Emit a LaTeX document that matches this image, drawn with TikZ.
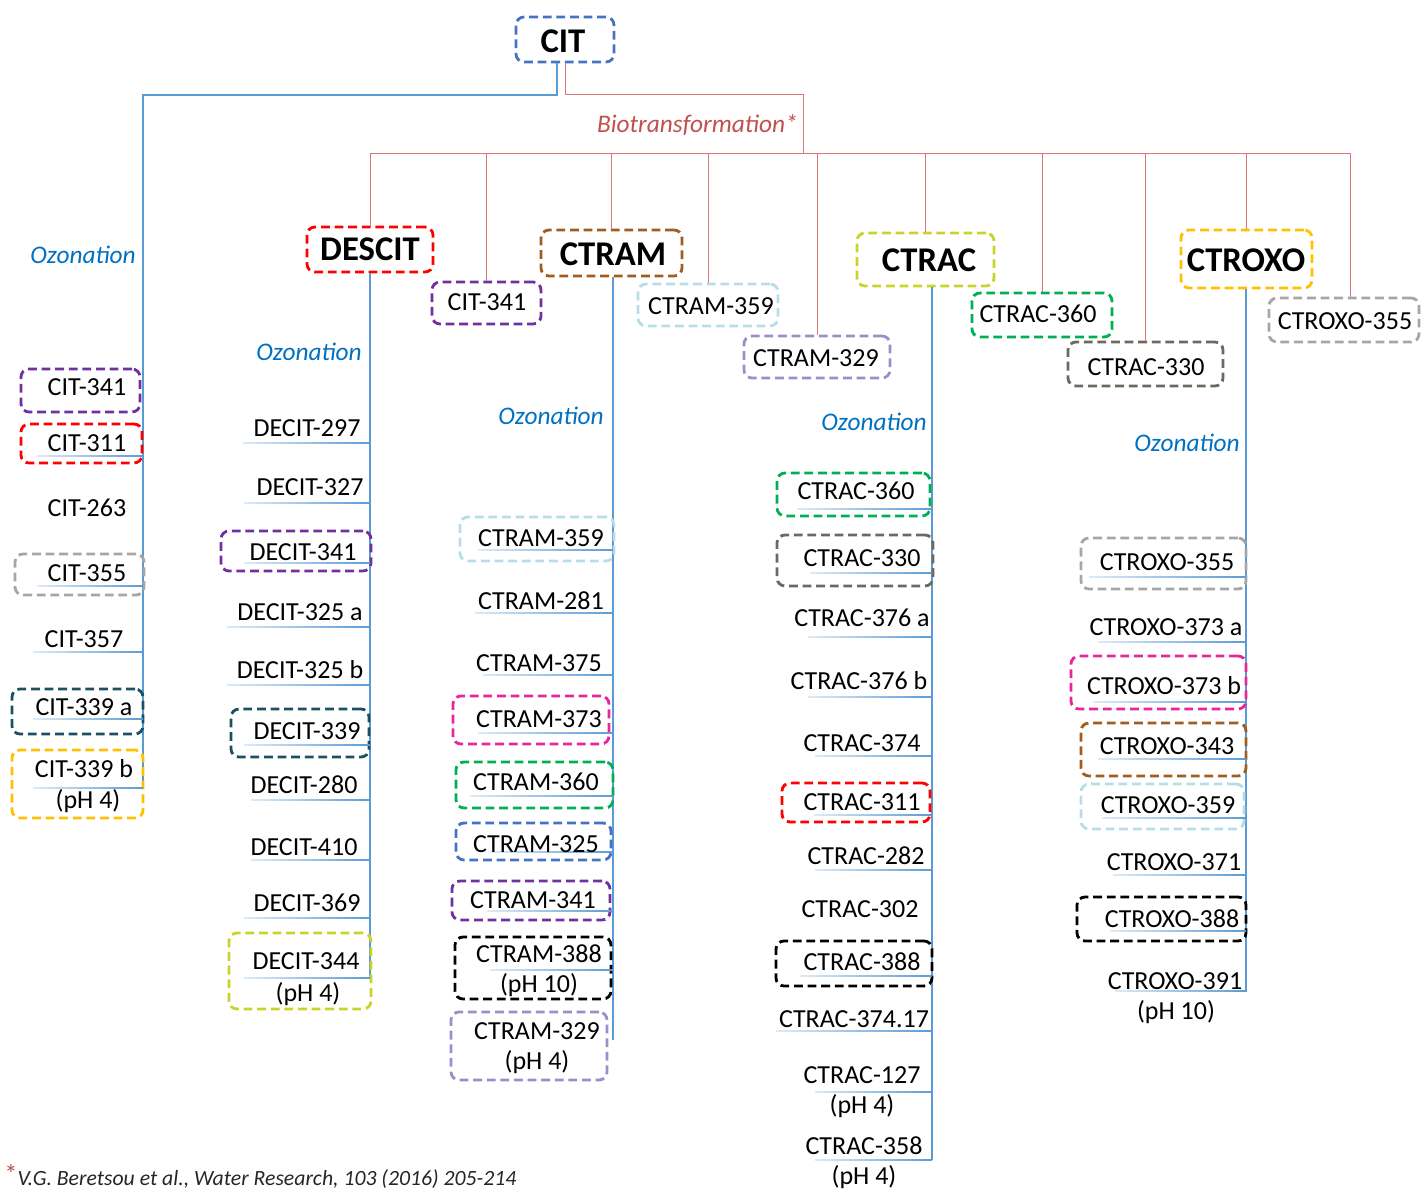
\documentclass[tikz,border=0pt]{standalone}
\usepackage{fontspec}
\setmainfont{Carlito}
\usetikzlibrary{calc}

\definecolor{cblue}{HTML}{4472C4}
\definecolor{cred}{HTML}{FF0000}
\definecolor{cbrown}{HTML}{A15C1E}
\definecolor{clime}{HTML}{C8D42A}
\definecolor{cgold}{HTML}{FFC000}
\definecolor{cpurple}{HTML}{7030A0}
\definecolor{cgray}{HTML}{A6A6A6}
\definecolor{cteal}{HTML}{1D4F62}
\definecolor{cltblue}{HTML}{B7DEE8}
\definecolor{clav}{HTML}{9A8FC8}
\definecolor{cpink}{HTML}{E8259B}
\definecolor{cgreen}{HTML}{00B050}
\definecolor{cdkgray}{HTML}{6B6A5E}
\definecolor{lineblue}{HTML}{5B9BD5}
\definecolor{ozblue}{HTML}{0070C0}
\definecolor{linered}{HTML}{D9787A}
\definecolor{biored}{HTML}{C0504D}
\definecolor{refgray}{HTML}{262626}

\tikzset{
  dbox/.style={draw=#1, dash pattern=on 6.6pt off 3.6pt, line width=2.1pt,
    rounded corners=6pt, inner sep=0pt},
  head/.style={font=\fontsize{26}{30}\selectfont\bfseries, text height=16.7pt,
    text depth=0pt, inner sep=0pt},
  lbl/.style={font=\fontsize{19.5}{23}\selectfont, text height=12.5pt,
    text depth=0pt, inner sep=0pt},
  ozo/.style={font=\fontsize{19}{23}\selectfont\itshape, text=ozblue,
    text height=12.3pt, text depth=0pt, inner sep=0pt, anchor=east},
  bio/.style={font=\fontsize{19}{23}\selectfont\itshape, text=biored,
    text height=12.3pt, text depth=0pt, inner sep=0pt, anchor=east},
  bline/.style={draw=lineblue, line width=0.9pt},
  rline/.style={draw=linered, line width=0.75pt},
}

% dashed rounded frame: name, x1, y1, x2, y2, colour
\newcommand\bx[6]{%
  \node[dbox=#6, minimum width={(#4-#2)*0.75pt}, minimum height={(#5-#3)*0.75pt}]
    (#1) at ({(#2+#4)/2},{(#3+#5)/2}) {};}
% tie line from an entry to its column line: x1, y, x2
\newcommand\tie[3]{%
  \fill[left color=lineblue!20, right color=lineblue] (#1,#2-0.7) rectangle (#3,#2+0.7);}

\begin{document}
\begin{tikzpicture}[x=0.75pt,y=-0.75pt]
\useasboundingbox (0,0) rectangle (1421,1191);

% ---------------- parent compound ----------------
\bx{cit}{516}{17}{614}{62}{cblue}
\node[head] (citT) at (563,41) {CIT};

% ---------------- biotransformation products (top row) ----------------
\bx{descit}{307}{227}{433}{272}{cred}
\node[head] (descitT) at (370,249) {DESCIT};
\bx{bcit341}{432}{282}{541}{324}{cpurple}
\node[lbl] (bcit341T) at (487,302) {CIT-341};
\bx{ctram}{541}{230}{682}{276}{cbrown}
\node[head] (ctramT) at (613,254) {CTRAM};
\bx{bctram359}{638}{284}{778}{326}{cltblue}
\node[lbl] (bctram359T) at (711,306) {CTRAM-359};
\bx{bctram329}{744}{336}{890}{378}{clav}
\node[lbl] (bctram329T) at (816,358) {CTRAM-329};
\bx{ctrac}{857}{233}{994}{286}{clime}
\node[head] (ctracT) at (929,260) {CTRAC};
\bx{bctrac360}{972}{293}{1112}{337}{cgreen}
\node[lbl] (bctrac360T) at (1038,314) {CTRAC-360};
\bx{bctrac330}{1068}{342}{1223}{386}{cdkgray}
\node[lbl] (bctrac330T) at (1146,367) {CTRAC-330};
\bx{ctroxo}{1181}{230}{1312}{288}{cgold}
\node[head] (ctroxoT) at (1246,260) {CTROXO};
\bx{bctroxo355}{1269}{298}{1419}{342}{cgray}
\node[lbl] (bctroxo355T) at (1345,321) {CTROXO-355};

% ---------------- branching lines ----------------
\coordinate (ozj) at (143,95);
\coordinate (citEnd) at (143,788);
\coordinate (bioTop) at (803,95);
\coordinate (barL) at (370,154);
\coordinate (barR) at (1351,154);
\coordinate (bioJ) at (803,154);

\draw[bline] ([xshift=-6pt]cit.south) |- (ozj) -- (citEnd);
\draw[rline] (cit.south) |- (bioTop) -- (bioJ);
\draw[rline] (barL) -- (barR);
\node[bio] (bioT) at (798,124) {Biotransformation*};

\foreach \n in {descit,bcit341,ctram,bctram359,bctram329,ctrac,bctrac360,bctrac330,ctroxo}
  \draw[rline] (\n.north) -- (\n.north |- barL);
\draw[rline] ([xshift=5pt]bctroxo355.north) -- ([xshift=5pt]bctroxo355.north |- barL);

% ---------------- ozonation columns ----------------
\coordinate (descitEnd) at (370,978);
\coordinate (ctramEnd) at (613,1040);
\coordinate (ctracEnd) at (932,1160);
\coordinate (ctroxoEnd) at (1246,992);
\draw[bline] (descit.south) -- (descitEnd);
\draw[bline] (ctram.south -| ctramEnd) -- (ctramEnd);
\draw[bline] (ctrac.south -| ctracEnd) -- (ctracEnd);
\draw[bline] (ctroxo.south -| ctroxoEnd) -- (ctroxoEnd);

\node[ozo] (oz1) at (136,255) {Ozonation};
\node[ozo] (oz2) at (362,352) {Ozonation};
\node[ozo] (oz3) at (604,416) {Ozonation};
\node[ozo] (oz4) at (927,422) {Ozonation};
\node[ozo] (oz5) at (1240,443) {Ozonation};

% CIT ozonation products
\bx{c1b}{21}{369}{140}{412}{cpurple}
\node[lbl] (c1) at (87,387) {CIT-341};
\bx{c2b}{21}{424}{142}{463}{cred}
\tie{37}{456}{143}
\node[lbl] (c2) at (87,443) {CIT-311};
\node[lbl] (c3) at (87,508) {CIT-263};
\bx{c4b}{15}{554}{144}{595}{cgray}
\tie{37}{586}{143}
\node[lbl] (c4) at (87,573) {CIT-355};
\tie{33}{652}{143}
\node[lbl] (c5) at (84,639) {CIT-357};
\bx{c6b}{12}{689}{143}{734}{cteal}
\tie{33}{719}{143}
\node[lbl] (c6) at (84,707) {CIT-339 a};
\bx{c7b}{12}{750}{143}{818}{cgold}
\tie{33}{788}{143}
\node[lbl] (c7) at (84,769) {CIT-339 b};
\node[lbl] (c7p) at (88,800) {(pH 4)};

% DESCIT ozonation products
\tie{243}{443}{370}
\node[lbl] (d1) at (307,428) {DECIT-297};
\tie{244}{503}{370}
\node[lbl] (d2) at (310,487) {DECIT-327};
\bx{d3b}{221}{531}{371}{571}{cpurple}
\tie{244}{563}{370}
\node[lbl] (d3) at (303,552) {DECIT-341};
\tie{227}{627}{370}
\node[lbl] (d4) at (300,612) {DECIT-325 a};
\tie{227}{685}{370}
\node[lbl] (d5) at (300,670) {DECIT-325 b};
\bx{d6b}{231}{709}{369}{757}{cteal}
\tie{244}{745}{370}
\node[lbl] (d6) at (307,731) {DECIT-339};
\tie{251}{800}{370}
\node[lbl] (d7) at (304,785) {DECIT-280};
\tie{251}{860}{370}
\node[lbl] (d8) at (304,847) {DECIT-410};
\tie{244}{918}{370}
\node[lbl] (d9) at (307,903) {DECIT-369};
\bx{d10b}{229}{933}{371}{1009}{clime}
\tie{244}{978}{370}
\node[lbl] (d10) at (306,961) {DECIT-344};
\node[lbl] (d10p) at (308,993) {(pH 4)};

% CTRAM ozonation products
\bx{m1b}{460}{517}{614}{561}{cltblue}
\tie{478}{550}{613}
\node[lbl] (m1) at (541,538) {CTRAM-359};
\tie{475}{613}{613}
\node[lbl] (m2) at (541,601) {CTRAM-281};
\tie{483}{675}{613}
\node[lbl] (m3) at (539,663) {CTRAM-375};
\bx{m4b}{453}{696}{609}{744}{cpink}
\tie{478}{733}{613}
\node[lbl] (m4) at (539,719) {CTRAM-373};
\bx{m5b}{456}{762}{613}{808}{cgreen}
\tie{470}{796}{613}
\node[lbl] (m5) at (536,782) {CTRAM-360};
\bx{m6b}{456}{823}{611}{860}{cblue}
\tie{490}{852}{613}
\node[lbl] (m6) at (536,844) {CTRAM-325};
\bx{m7b}{452}{881}{610}{920}{cpurple}
\tie{487}{911}{613}
\node[lbl] (m7) at (533,900) {CTRAM-341};
\bx{m8b}{455}{937}{611}{999}{black}
\tie{490}{970}{613}
\node[lbl] (m8) at (539,954) {CTRAM-388};
\node[lbl] (m8p) at (539,984) {(pH 10)};
\bx{m9b}{451}{1012}{607}{1080}{clav}
\node[lbl] (m9) at (537,1031) {CTRAM-329};
\node[lbl] (m9p) at (537,1061) {(pH 4)};

% CTRAC ozonation products
\bx{a1b}{777}{473}{930}{516}{cgreen}
\tie{797}{509}{932}
\node[lbl] (a1) at (856,491) {CTRAC-360};
\bx{a2b}{777}{535}{933}{586}{cdkgray}
\tie{810}{573}{932}
\node[lbl] (a2) at (862,558) {CTRAC-330};
\tie{808}{637}{932}
\node[lbl] (a3) at (862,618) {CTRAC-376 a};
\tie{808}{697}{932}
\node[lbl] (a4) at (859,681) {CTRAC-376 b};
\tie{815}{756}{932}
\node[lbl] (a5) at (862,743) {CTRAC-374};
\bx{a6b}{782}{783}{930}{822}{cred}
\tie{814}{815}{932}
\node[lbl] (a6) at (862,802) {CTRAC-311};
\tie{815}{870}{932}
\node[lbl] (a7) at (866,856) {CTRAC-282};
\node[lbl] (a8) at (860,909) {CTRAC-302};
\bx{a9b}{776}{941}{932}{986}{black}
\tie{800}{976}{932}
\node[lbl] (a9) at (862,962) {CTRAC-388};
\tie{776}{1031}{932}
\node[lbl] (a10) at (854,1019) {CTRAC-374.17};
\tie{815}{1092}{932}
\node[lbl] (a11) at (862,1075) {CTRAC-127};
\node[lbl] (a11p) at (862,1105) {(pH 4)};
\tie{815}{1160}{932}
\node[lbl] (a12) at (864,1146) {CTRAC-358};
\node[lbl] (a12p) at (864,1176) {(pH 4)};

% CTROXO ozonation products
\bx{o1b}{1081}{538}{1246}{589}{cgray}
\tie{1089}{577}{1246}
\node[lbl] (o1) at (1167,562) {CTROXO-355};
\tie{1098}{642}{1246}
\node[lbl] (o2) at (1166,627) {CTROXO-373 a};
\bx{o3b}{1071}{656}{1246}{709}{cpink}
\tie{1093}{702}{1246}
\node[lbl] (o3) at (1164,686) {CTROXO-373 b};
\bx{o4b}{1081}{723}{1246}{776}{cbrown}
\tie{1098}{759}{1246}
\node[lbl] (o4) at (1167,746) {CTROXO-343};
\bx{o5b}{1081}{784}{1244}{829}{cltblue}
\tie{1102}{818}{1246}
\node[lbl] (o5) at (1168,805) {CTROXO-359};
\tie{1113}{875}{1246}
\node[lbl] (o6) at (1174,862) {CTROXO-371};
\bx{o7b}{1077}{897}{1246}{941}{black}
\tie{1110}{931}{1246}
\node[lbl] (o7) at (1172,919) {CTROXO-388};
\tie{1115}{991}{1246}
\node[lbl] (o8) at (1175,981) {CTROXO-391};
\node[lbl] (o8p) at (1176,1011) {(pH 10)};

% reference note
\node[anchor=base west, inner sep=0pt, font=\fontsize{16.3}{19}\selectfont\itshape,
  text=refgray] (refnote) at (4,1185)
  {\textcolor{biored}{\upshape\fontsize{20}{20}\selectfont\raisebox{0.15ex}{*}}V.G. Beretsou et al., Water Research, 103 (2016) 205-214};
\end{tikzpicture}
\end{document}
